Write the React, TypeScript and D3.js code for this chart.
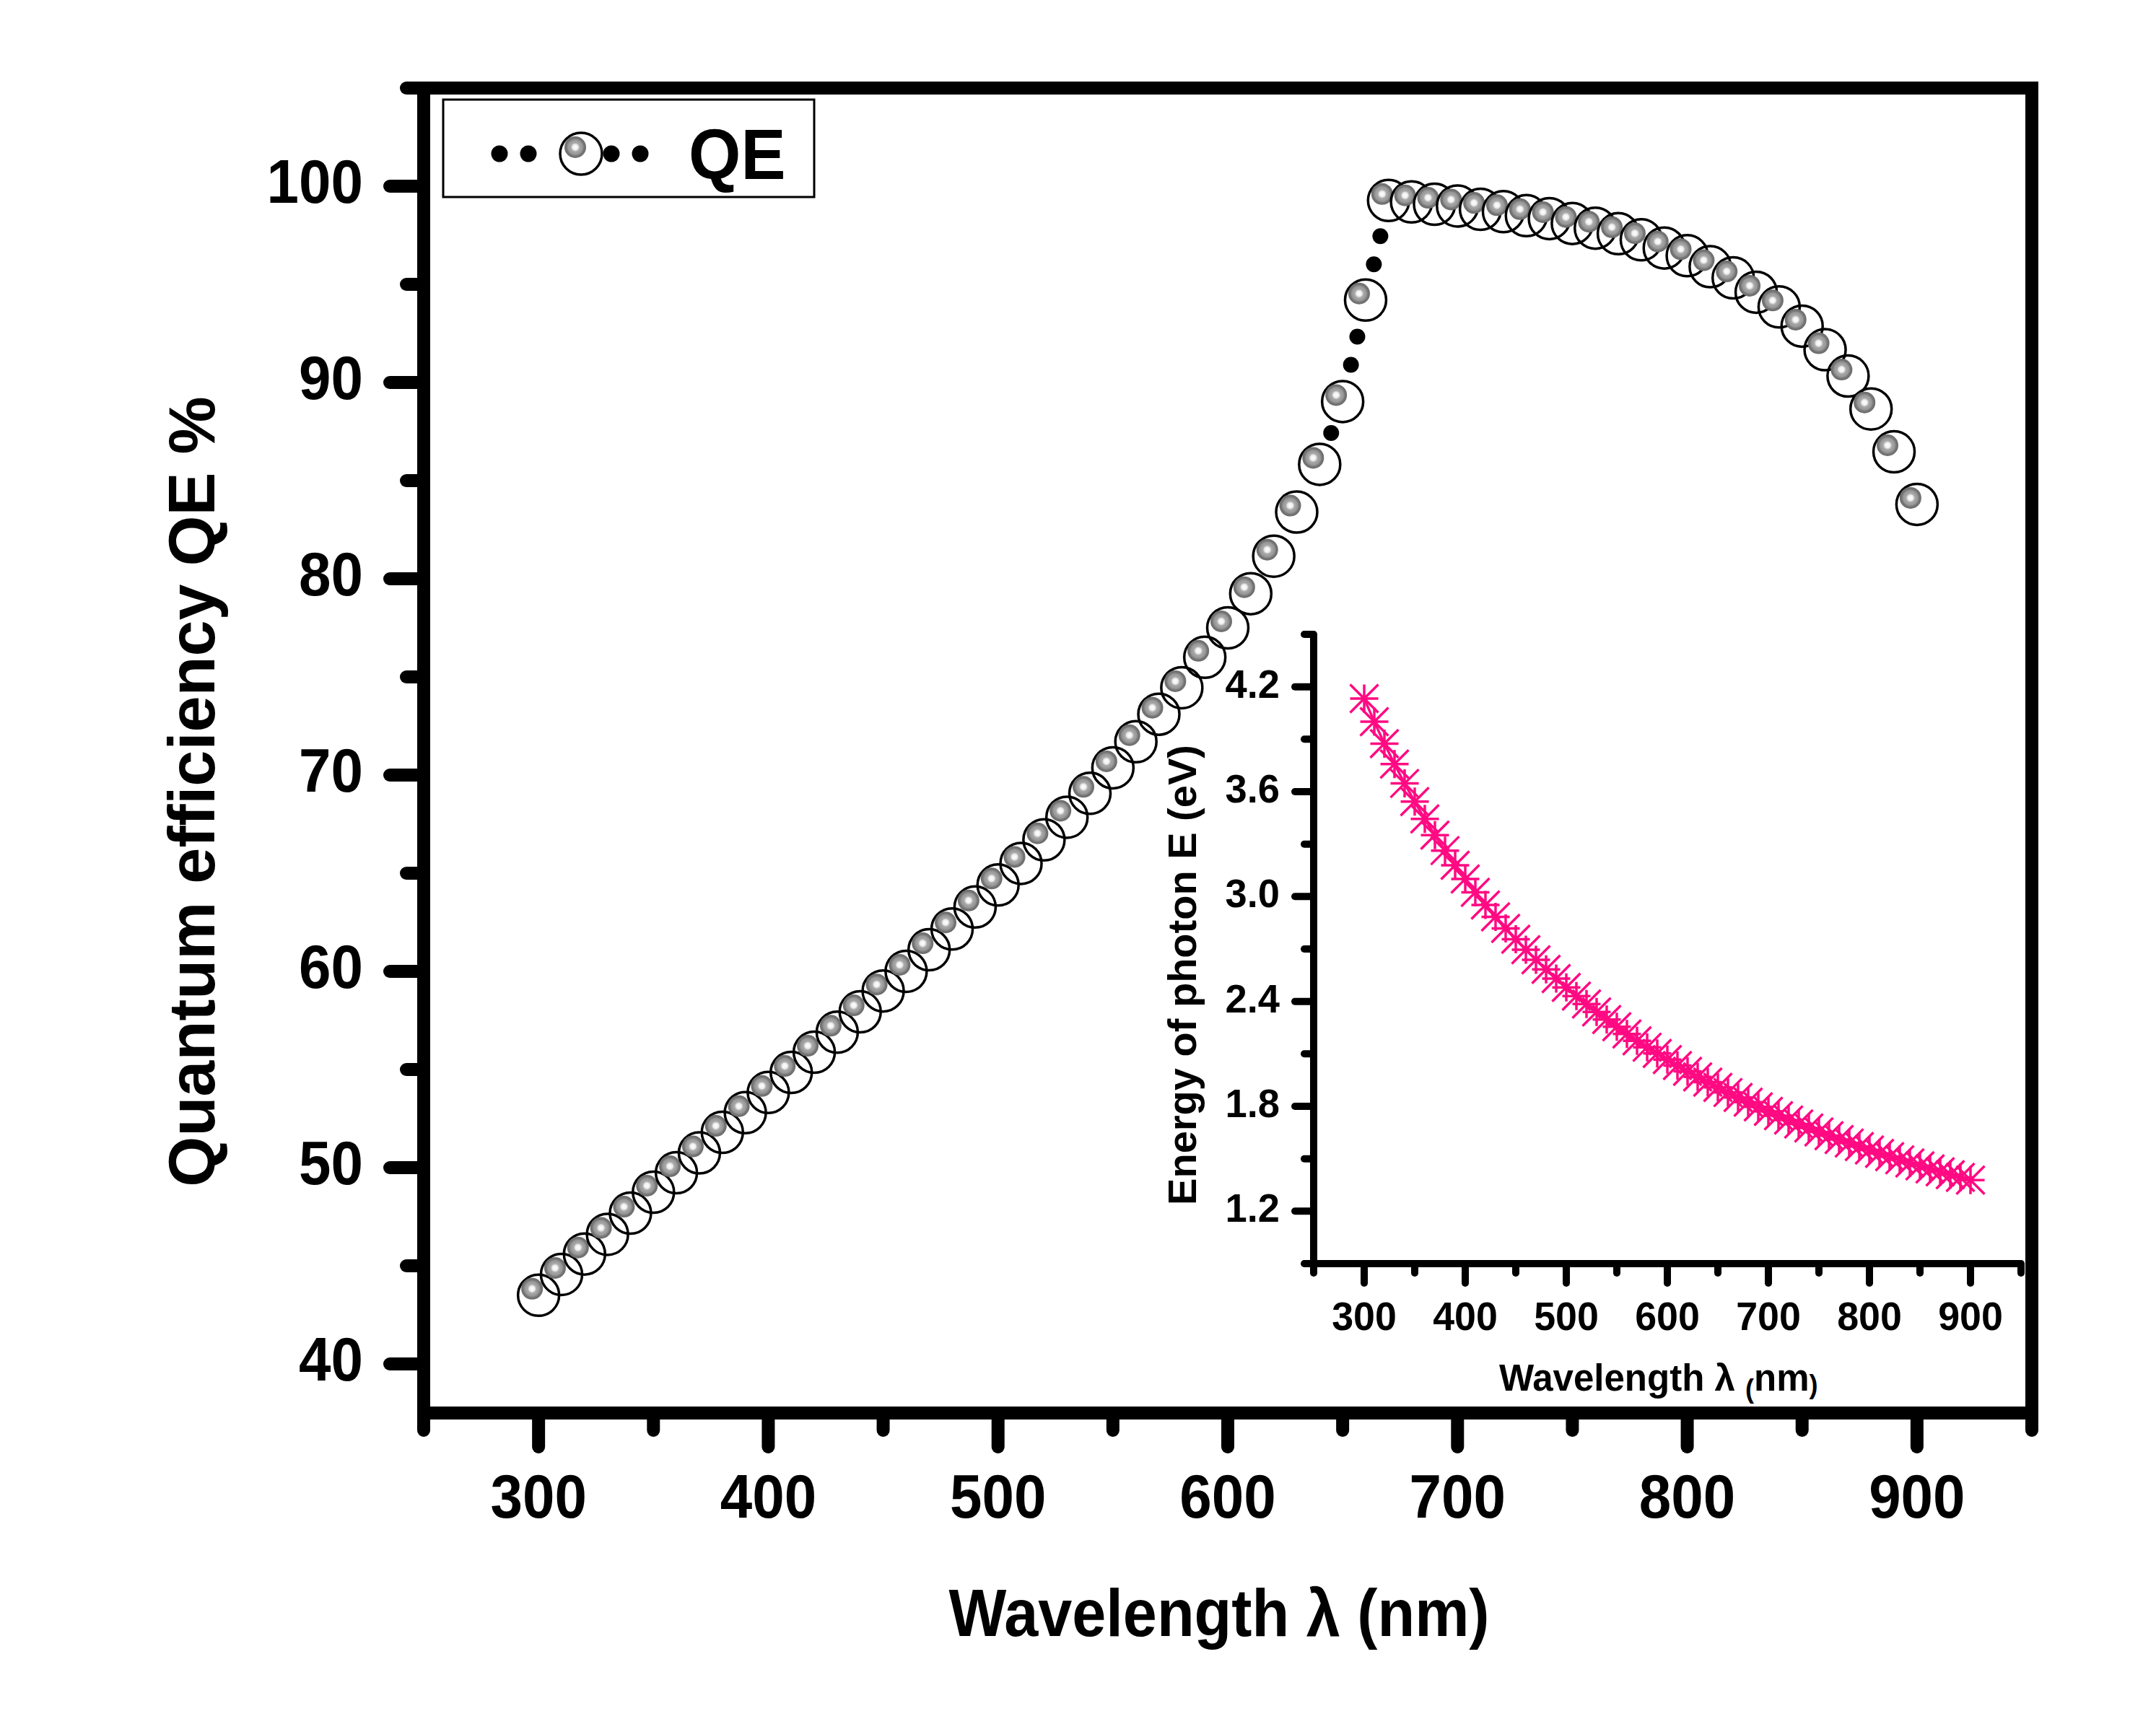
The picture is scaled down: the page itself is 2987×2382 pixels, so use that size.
import React from 'react';
import * as d3 from 'd3';

const WAVELENGTH_NM = [
  300, 310, 320, 330, 340, 350, 360, 370, 380, 390,
  400, 410, 420, 430, 440, 450, 460, 470, 480, 490,
  500, 510, 520, 530, 540, 550, 560, 570, 580, 590,
  600, 610, 620, 630, 640, 650, 660, 670, 680, 690,
  700, 710, 720, 730, 740, 750, 760, 770, 780, 790,
  800, 810, 820, 830, 840, 850, 860, 870, 880, 890, 900,
];

const QE_PERCENT = [
  43.5, 44.56, 45.6, 46.6, 47.68, 48.75, 49.74, 50.75, 51.8, 52.8,
  53.83, 54.85, 55.88, 56.9, 57.94, 59.0, 60.0, 61.1, 62.16, 63.28,
  64.4, 65.5, 66.7, 67.85, 69.07, 70.37, 71.7, 73.1, 74.45, 76.0,
  77.5, 79.24, 81.15, 83.4, 85.83, 89.03, 94.2, 99.27, 99.2, 99.08,
  98.99, 98.82, 98.7, 98.5, 98.35, 98.1, 97.86, 97.58, 97.27, 96.85,
  96.46, 95.9, 95.33, 94.6, 93.85, 92.87, 91.67, 90.33, 88.65, 86.47, 83.79,
];

const PHOTON_ENERGY_EV = [
  4.133, 4.0, 3.875, 3.758, 3.647, 3.543, 3.444, 3.351, 3.263, 3.179,
  3.1, 3.024, 2.952, 2.884, 2.818, 2.756, 2.696, 2.638, 2.583, 2.531,
  2.48, 2.431, 2.385, 2.34, 2.296, 2.255, 2.214, 2.175, 2.138, 2.102,
  2.067, 2.033, 2.0, 1.968, 1.938, 1.908, 1.879, 1.851, 1.824, 1.797,
  1.771, 1.746, 1.722, 1.699, 1.676, 1.653, 1.632, 1.61, 1.59, 1.57,
  1.55, 1.531, 1.512, 1.494, 1.476, 1.459, 1.442, 1.425, 1.409, 1.393, 1.378,
];

const MAIN_X_TICKS = [300, 400, 500, 600, 700, 800, 900];
const MAIN_X_MINOR = [250, 350, 450, 550, 650, 750, 850, 950];
const MAIN_Y_TICKS = [40, 50, 60, 70, 80, 90, 100];
const MAIN_Y_MINOR = [45, 55, 65, 75, 85, 95, 105];
const INSET_X_TICKS = [300, 400, 500, 600, 700, 800, 900];
const INSET_X_MINOR = [250, 350, 450, 550, 650, 750, 850, 950];
const INSET_Y_TICKS = [1.2, 1.8, 2.4, 3.0, 3.6, 4.2];
const INSET_Y_MINOR = [0.9, 1.5, 2.1, 2.7, 3.3, 3.9, 4.5];

const FONT = '"Liberation Sans", Arial, Helvetica, sans-serif';
const PINK = '#ff0a82';

export default function App() {
  const W = 2987;
  const H = 2382;

  const x = d3.scaleLinear().domain([250, 950]).range([587, 2815]);
  const y = d3.scaleLinear().domain([37.5, 105]).range([1958, 122]);
  const xi = d3.scaleLinear().domain([250, 950]).range([1820, 2800]);
  const yi = d3.scaleLinear().domain([0.9, 4.5]).range([1751, 879]);

  const AX = 18; // main axis thickness
  const IAX = 10; // inset axis thickness

  const pts = WAVELENGTH_NM.map((w, i) => [x(w), y(QE_PERCENT[i])] as [number, number]);

  // dotted connecting line, gapped at the symbols
  const GAP = 42;
  const SP = 40;
  const dots: [number, number][] = [];
  for (let i = 0; i < pts.length - 1; i++) {
    const [x0, y0] = pts[i];
    const [x1, y1] = pts[i + 1];
    const L = Math.hypot(x1 - x0, y1 - y0);
    const usable = L - 2 * GAP;
    if (usable < 0) continue;
    const n = Math.floor(usable / SP) + 1;
    const start = (L - (n - 1) * SP) / 2;
    for (let k = 0; k < n; k++) {
      const t = (start + k * SP) / L;
      dots.push([x0 + (x1 - x0) * t, y0 + (y1 - y0) * t]);
    }
  }

  const insetLine = d3
    .line<number>()
    .x((_, i) => xi(WAVELENGTH_NM[i]))
    .y((d) => yi(d))(PHOTON_ENERGY_EV) as string;

  const starPath = (s: number) =>
    `M${-s},0H${s}M0,${-s}V${s}M${-s},${-s}L${s},${s}M${s},${-s}L${-s},${s}`;

  const x0 = x(250);
  const x1 = x(950);
  const y0 = y(37.5);
  const y1 = y(105);

  return (
    <svg
      width={W}
      height={H}
      viewBox={`0 0 ${W} ${H}`}
      style={{ position: 'absolute', left: 0, top: 0, background: '#fff' }}
    >
      <defs>
        <radialGradient id="ball" cx="0.5" cy="0.5" r="0.5">
          <stop offset="0" stopColor="#ffffff" />
          <stop offset="0.25" stopColor="#eeeeee" />
          <stop offset="0.4" stopColor="#aaaaaa" />
          <stop offset="0.68" stopColor="#959595" />
          <stop offset="0.8" stopColor="#777777" />
          <stop offset="1" stopColor="#6a6a6a" />
        </radialGradient>
      </defs>
      <rect x={0} y={0} width={W} height={H} fill="#fff" />

      {/* main frame */}
      <rect x={x0} y={y1} width={x1 - x0} height={y0 - y1} fill="none" stroke="#000" strokeWidth={AX} />

      {/* main ticks */}
      {MAIN_X_TICKS.map((t) => (
        <line key={'xt' + t} x1={x(t)} x2={x(t)} y1={y0} y2={y0 + 47} stroke="#000" strokeWidth={AX} strokeLinecap="round" />
      ))}
      {MAIN_X_MINOR.map((t) => (
        <line key={'xm' + t} x1={x(t)} x2={x(t)} y1={y0} y2={y0 + 24} stroke="#000" strokeWidth={AX} strokeLinecap="round" />
      ))}
      {MAIN_Y_TICKS.map((t) => (
        <line key={'yt' + t} x1={x0} x2={x0 - 47} y1={y(t)} y2={y(t)} stroke="#000" strokeWidth={AX} strokeLinecap="round" />
      ))}
      {MAIN_Y_MINOR.map((t) => (
        <line key={'ym' + t} x1={x0} x2={x0 - 24} y1={y(t)} y2={y(t)} stroke="#000" strokeWidth={AX} strokeLinecap="round" />
      ))}

      {/* main tick labels */}
      {MAIN_X_TICKS.map((t) => (
        <text
          key={'xl' + t}
          transform={`translate(${x(t)},2103) scale(0.93,1)`}
          textAnchor="middle"
          fontFamily={FONT}
          fontWeight="bold"
          fontSize={86}
        >
          {t}
        </text>
      ))}
      {MAIN_Y_TICKS.map((t) => (
        <text
          key={'yl' + t}
          transform={`translate(503,${y(t) + 23}) scale(0.93,1)`}
          textAnchor="end"
          fontFamily={FONT}
          fontWeight="bold"
          fontSize={86}
        >
          {t}
        </text>
      ))}

      {/* axis titles */}
      <text
        transform={`translate(1689,2267) scale(0.92,1)`}
        textAnchor="middle"
        fontFamily={FONT}
        fontWeight="bold"
        fontSize={92}
      >
        Wavelength λ (nm)
      </text>
      <text
        transform={`translate(297,1097) rotate(-90)`}
        textAnchor="middle"
        fontFamily={FONT}
        fontWeight="bold"
        fontSize={90}
      >
        Quantum efficiency QE %
      </text>

      {/* dotted line */}
      {dots.map(([dx, dy], i) => (
        <circle key={'d' + i} cx={dx} cy={dy} r={11} fill="#000" />
      ))}

      {/* QE symbols */}
      {pts.map(([px, py], i) => (
        <g key={'p' + i}>
          <circle cx={px} cy={py} r={28.5} fill="none" stroke="#000" strokeWidth={3.5} />
          <circle cx={px - 9} cy={py - 9} r={15} fill="url(#ball)" />
        </g>
      ))}

      {/* legend */}
      <rect x={614} y={138} width={514} height={135} fill="#fff" stroke="#000" strokeWidth={3} />
      {[692, 732, 847, 887].map((lx) => (
        <circle key={'lg' + lx} cx={lx} cy={213} r={11.5} fill="#000" />
      ))}
      <circle cx={805} cy={213} r={29} fill="none" stroke="#000" strokeWidth={3.5} />
      <circle cx={797} cy={204} r={15} fill="url(#ball)" />
      <text
        transform="translate(954,248) scale(0.95,1)"
        fontFamily={FONT}
        fontWeight="bold"
        fontSize={98}
      >
        QE
      </text>

      {/* inset axes */}
      <line x1={xi(250)} x2={xi(250)} y1={yi(4.5)} y2={yi(0.9) + IAX / 2} stroke="#000" strokeWidth={IAX} />
      <line x1={xi(250) - IAX / 2} x2={xi(950)} y1={yi(0.9)} y2={yi(0.9)} stroke="#000" strokeWidth={IAX} />
      {INSET_X_TICKS.map((t) => (
        <line key={'ixt' + t} x1={xi(t)} x2={xi(t)} y1={yi(0.9)} y2={yi(0.9) + 27} stroke="#000" strokeWidth={IAX} strokeLinecap="round" />
      ))}
      {INSET_X_MINOR.map((t) => (
        <line key={'ixm' + t} x1={xi(t)} x2={xi(t)} y1={yi(0.9)} y2={yi(0.9) + 13} stroke="#000" strokeWidth={IAX} strokeLinecap="round" />
      ))}
      {INSET_Y_TICKS.map((t) => (
        <line key={'iyt' + t} x1={xi(250)} x2={xi(250) - 26} y1={yi(t)} y2={yi(t)} stroke="#000" strokeWidth={IAX} strokeLinecap="round" />
      ))}
      {INSET_Y_MINOR.map((t) => (
        <line key={'iym' + t} x1={xi(250)} x2={xi(250) - 13} y1={yi(t)} y2={yi(t)} stroke="#000" strokeWidth={IAX} strokeLinecap="round" />
      ))}
      {INSET_X_TICKS.map((t) => (
        <text
          key={'ixl' + t}
          transform={`translate(${xi(t)},1843) scale(0.96,1)`}
          textAnchor="middle"
          fontFamily={FONT}
          fontWeight="bold"
          fontSize={56}
        >
          {t}
        </text>
      ))}
      {INSET_Y_TICKS.map((t) => (
        <text
          key={'iyl' + t}
          transform={`translate(1773,${yi(t) + 15}) scale(0.97,1)`}
          textAnchor="end"
          fontFamily={FONT}
          fontWeight="bold"
          fontSize={56}
        >
          {t.toFixed(1)}
        </text>
      ))}
      <text x={2077} y={1927} fontFamily={FONT} fontWeight="bold" fontSize={51}>
        Wavelength λ{' '}
        <tspan fontSize={36} dy={10}>(</tspan>
        <tspan fontSize={51} dy={-10}>nm</tspan>
        <tspan fontSize={36} dy={4}>)</tspan>
      </text>
      <text
        transform="translate(1657,1351) rotate(-90)"
        textAnchor="middle"
        fontFamily={FONT}
        fontWeight="bold"
        fontSize={56}
      >
        Energy of photon E (eV)
      </text>

      {/* inset data */}
      <path d={insetLine} fill="none" stroke={PINK} strokeWidth={3.5} />
      {PHOTON_ENERGY_EV.map((e, i) => (
        <path
          key={'s' + i}
          transform={`translate(${xi(WAVELENGTH_NM[i])},${yi(e)})`}
          d={starPath(19.5)}
          fill="none"
          stroke={PINK}
          strokeWidth={3.5}
        />
      ))}
    </svg>
  );
}
